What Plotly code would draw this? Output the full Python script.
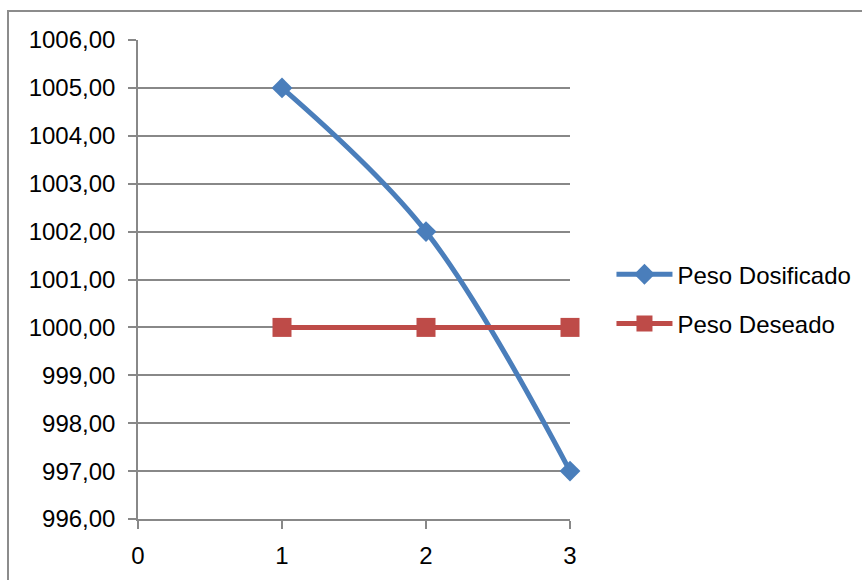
import plotly.graph_objects as go

# Sample index and weights (grams)
muestras = [1, 2, 3]
peso_dosificado = [1005.00, 1002.00, 997.00]
peso_deseado = [1000.00, 1000.00, 1000.00]

y_ticks = [996, 997, 998, 999, 1000, 1001, 1002, 1003, 1004, 1005, 1006]
y_labels = [f"{v:.2f}".replace(".", ",") for v in y_ticks]
x_ticks = [0, 1, 2, 3]

AZUL = "#4A7EBB"
ROJO = "#BE4B48"
GRIS = "#888888"
FUENTE = "Liberation Sans"

fig = go.Figure()

fig.add_trace(go.Scatter(
    x=muestras, y=peso_dosificado, name="Peso Dosificado",
    mode="lines+markers", legendgroup="a", cliponaxis=False,
    line=dict(color=AZUL, width=5, shape="spline", smoothing=1.0),
    marker=dict(symbol="diamond", size=16, color=AZUL),
))
fig.add_trace(go.Scatter(
    x=muestras, y=peso_deseado, name="Peso Deseado",
    mode="lines+markers", legendgroup="b", cliponaxis=False,
    line=dict(color=ROJO, width=5),
    marker=dict(symbol="square", size=19, color=ROJO),
))

fig.update_layout(
    width=862, height=580,
    margin=dict(l=138, r=292, t=40, b=61, autoexpand=False),
    paper_bgcolor="white", plot_bgcolor="white",
    font=dict(family=FUENTE, size=24, color="#000000"),
    showlegend=True,
    legend=dict(
        x=1.096, y=0.459, xanchor="left", yanchor="middle",
        font=dict(family=FUENTE, size=24, color="#000000"),
        itemwidth=56, tracegroupgap=15, bgcolor="rgba(0,0,0,0)",
    ),
    xaxis=dict(
        range=[0, 3], tickmode="array", tickvals=x_ticks,
        ticktext=[str(v) for v in x_ticks], automargin=False,
        showgrid=False, zeroline=False,
        showline=True, linecolor=GRIS, linewidth=1.5,
        ticks="outside", ticklen=8, tickwidth=1.5, tickcolor=GRIS,
        ticklabelstandoff=6,
    ),
    yaxis=dict(
        range=[996, 1006], tickmode="array", tickvals=y_ticks,
        ticktext=y_labels, automargin=False,
        showgrid=True, gridcolor=GRIS, gridwidth=1.5, zeroline=False,
        showline=True, linecolor=GRIS, linewidth=1.5,
        ticks="outside", ticklen=8, tickwidth=1.5, tickcolor=GRIS,
        ticklabelstandoff=8,
    ),
    shapes=[dict(
        type="rect", xref="paper", yref="paper",
        x0=(8 - 138) / 432, x1=(880 - 138) / 432,
        y0=(519 - 600) / 479, y1=(519 - 11) / 479,
        line=dict(color="#8C8C8C", width=2), fillcolor="rgba(0,0,0,0)",
        layer="below",
    )],
)

fig.write_html("out.html")
